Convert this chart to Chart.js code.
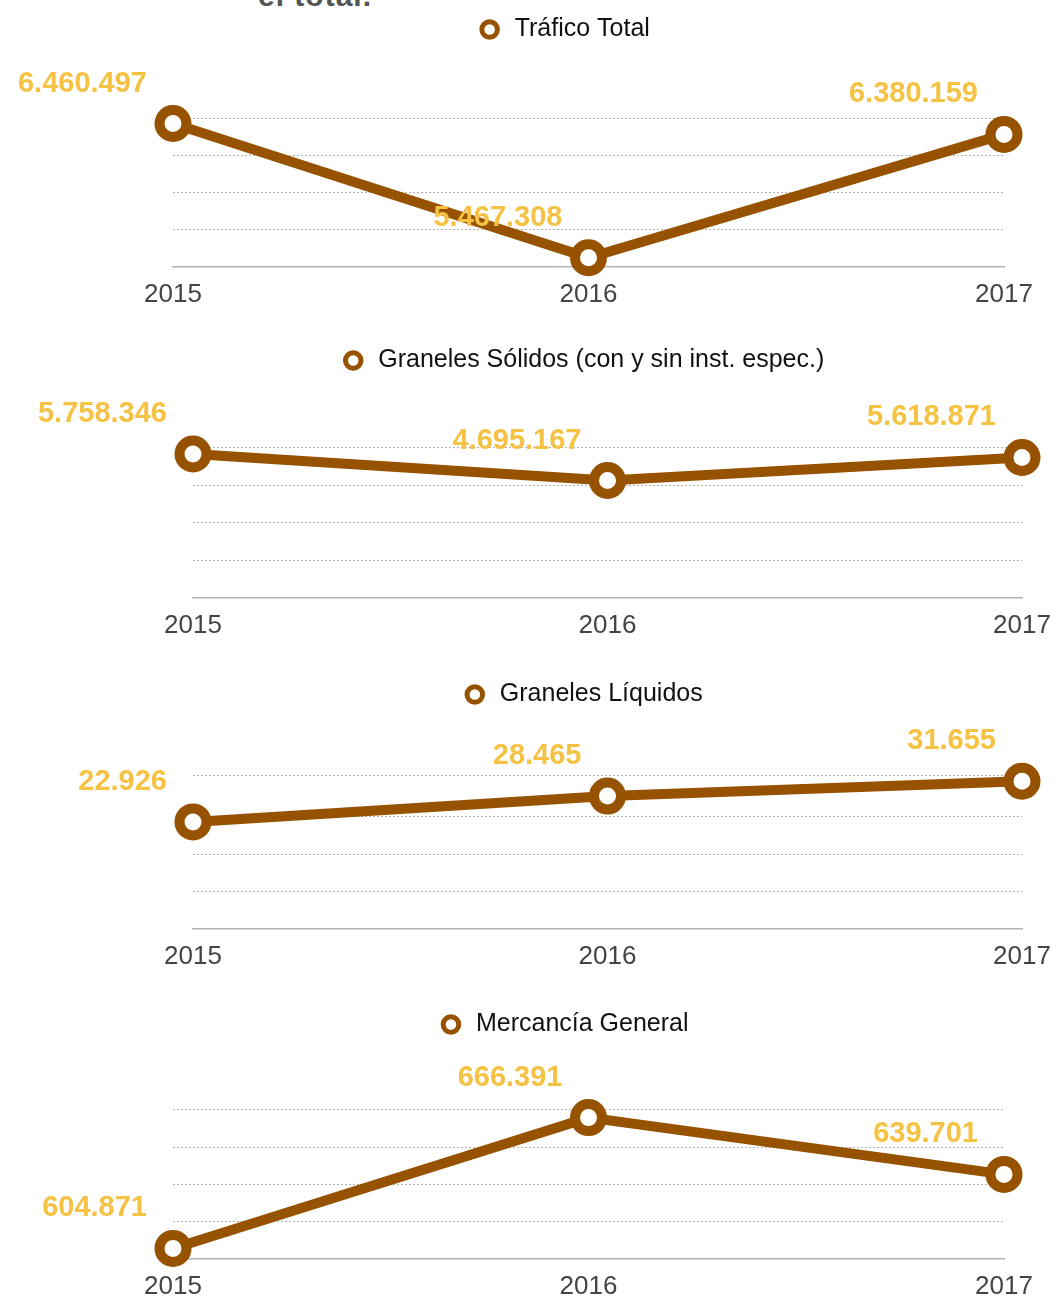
<!DOCTYPE html>
<html>
<head>
<meta charset="utf-8">
<script src="https://cdn.jsdelivr.net/npm/chart.js@4.4.1/dist/chart.umd.min.js"></script>
<style>
  html, body { margin: 0; padding: 0; background: #fff; overflow: hidden; width: 1056px; height: 1298px; }
  .box { position: absolute; left: 0; }
  #title { position: absolute; left: 258px; top: -22px; font: bold 30px "Liberation Sans", Arial, sans-serif;
           color: #555; letter-spacing: 1px; line-height: 36px; white-space: nowrap; }
</style>
</head>
<body>
<div id="title">el total.</div>
<div class="box" style="top:7px;width:1056px;height:315px"><canvas id="c1"></canvas></div>
<div class="box" style="top:338px;width:1066px;height:315px"><canvas id="c2"></canvas></div>
<div class="box" style="top:672px;width:1066px;height:312px"><canvas id="c3"></canvas></div>
<div class="box" style="top:1002px;width:1056px;height:312px"><canvas id="c4"></canvas></div>
<script>
// Data
const years = ['2015', '2016', '2017'];
const traficoTotal = [6460497, 5467308, 6380159];
const granelesSolidos = [5758346, 4695167, 5618871];
const granelesLiquidos = [22926, 28465, 31655];
const mercanciaGeneral = [604871, 666391, 639701];

// Gridline ticks for each panel
const traficoTicks = [5400000, 5675000, 5950000, 6225000, 6500000];
const solidosTicks = [0, 1500000, 3000000, 4500000, 6000000];
const liquidosTicks = [0, 8000, 16000, 24000, 32800];
const mercanciaTicks = [600000, 617500, 635000, 652500, 670000];

const BROWN = '#975200';
const YELLOW = '#f5c243';
const FONT = '"Liberation Sans", Arial, sans-serif';

// 6460497 -> 6.460.497
function fmt(v) {
    return String(v).replace(/\B(?=(\d{3})+(?!\d))/g, '.');
}

// Draw the yellow value labels above-left of each point
const valueLabels = {
    id: 'valueLabels',
    afterDatasetsDraw(chart) {
        const ctx = chart.ctx;
        const values = chart.data.datasets[0].data;
        ctx.save();
        ctx.font = 'bold 29px ' + FONT;
        ctx.fillStyle = YELLOW;
        ctx.textAlign = 'right';
        ctx.textBaseline = 'middle';
        chart.getDatasetMeta(0).data.forEach((pt, i) => {
            ctx.fillText(fmt(values[i]), pt.x - 26, pt.y - 40);
        });
        ctx.restore();
    }
};

function makeChart(id, label, values, ticks, yMax, padLeft, padRight) {
    const ctx = document.getElementById(id).getContext('2d');
    return new Chart(ctx, {
        type: 'line',
        data: {
            labels: years,
            datasets: [{
                label: label,
                data: values,
                borderColor: BROWN,
                borderWidth: 10,
                pointRadius: 13.5,
                pointHoverRadius: 13.5,
                pointBorderWidth: 10,
                pointBackgroundColor: '#fff',
                pointBorderColor: BROWN,
                tension: 0,
                fill: false,
                clip: false
            }]
        },
        options: {
            responsive: true,
            maintainAspectRatio: false,
            animation: false,
            layout: { padding: { left: padLeft, right: padRight, top: 0, bottom: 0 } },
            scales: {
                x: {
                    offset: false,
                    grid: { display: false, drawTicks: false },
                    border: { display: true, color: '#b3b3b3', width: 1.5 },
                    ticks: { color: '#444', padding: 12, font: { family: FONT, size: 26 } }
                },
                y: {
                    min: ticks[0],
                    max: yMax,
                    afterBuildTicks: scale => { scale.ticks = ticks.map(v => ({ value: v })); },
                    afterFit: scale => { scale.width = 50; },
                    ticks: { display: false },
                    border: { display: false, dash: [2, 2] },
                    grid: {
                        drawTicks: false,
                        lineWidth: 1,
                        color: c => c.index === 0 ? 'rgba(0,0,0,0)' : '#b0b0b0'
                    }
                }
            },
            plugins: {
                legend: {
                    position: 'top',
                    labels: {
                        usePointStyle: true,
                        boxWidth: 25,
                        boxHeight: 11,
                        padding: 10,
                        color: '#111',
                        font: { family: FONT, size: 25 },
                        generateLabels: chart => Chart.defaults.plugins.legend.labels.generateLabels(chart)
                            .map(item => ({ ...item, lineWidth: 5, fillStyle: '#fff', strokeStyle: BROWN, pointStyle: 'circle' }))
                    }
                },
                tooltip: { enabled: false }
            }
        },
        plugins: [valueLabels]
    });
}

makeChart('c1', 'Tráfico Total', traficoTotal, traficoTicks, 6990000, 123, 52);
makeChart('c2', 'Graneles Sólidos (con y sin inst. espec.)', granelesSolidos, solidosTicks, 8600000, 143, 44);
makeChart('c3', 'Graneles Líquidos', granelesLiquidos, liquidosTicks, 45430, 143, 44);
makeChart('c4', 'Mercancía General', mercanciaGeneral, mercanciaTicks, 699600, 123, 52);
</script>
</body>
</html>
